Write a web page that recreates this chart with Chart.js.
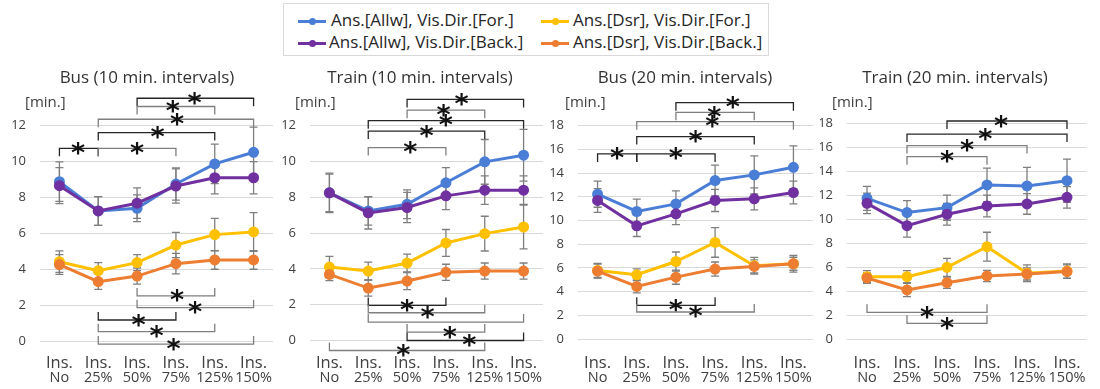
<!DOCTYPE html>
<html>
<head>
<meta charset="utf-8">
<script src="https://cdn.jsdelivr.net/npm/chart.js@4.4.1/dist/chart.umd.min.js"></script>
<style>
  body { margin: 0; background: #fff; width: 1100px; height: 389px; position: relative; overflow: hidden; font-family: "Open Sans", sans-serif; }
  .panel { position: absolute; top: 60px; height: 329px; }
  #legend { position: absolute; left: 283px; top: 3px; width: 484px; height: 51px; border: 1px solid #d9d9d9; }
  .entry { position: absolute; font-size: 17px; color: #262626; white-space: nowrap; line-height: 20px; }
  .sym { position: absolute; height: 3px; }
  .dot { position: absolute; width: 7px; height: 7px; border-radius: 50%; }
</style>
</head>
<body>
<div id="legend"></div>
<div class="panel" id="p1"><canvas id="c1"></canvas></div>
<div class="panel" id="p2"><canvas id="c2"></canvas></div>
<div class="panel" id="p3"><canvas id="c3"></canvas></div>
<div class="panel" id="p4"><canvas id="c4"></canvas></div>
<script>
// ---- data ----
const categories = ["No", "25%", "50%", "75%", "125%", "150%"];
const seriesNames = [
  "Ans.[Allw], Vis.Dir.[For.]",
  "Ans.[Allw], Vis.Dir.[Back.]",
  "Ans.[Dsr], Vis.Dir.[For.]",
  "Ans.[Dsr], Vis.Dir.[Back.]"
];
const seriesColors = ["#4a7ed6", "#7030a0", "#ffc000", "#ed7d31"];

const ticks12 = [0, 2, 4, 6, 8, 10, 12];
const ticks18 = [0, 2, 4, 6, 8, 10, 12, 14, 16, 18];

// Bus, 10 min. intervals
const bus10AllwFor  = [8.88, 7.25, 7.40, 8.75, 9.87, 10.52];
const bus10AllwBack = [8.66, 7.25, 7.68, 8.64, 9.10, 9.10];
const bus10DsrFor   = [4.42, 3.92, 4.37, 5.35, 5.93, 6.08];
const bus10DsrBack  = [4.26, 3.31, 3.62, 4.31, 4.52, 4.52];
const bus10AllwForErr  = [1.10, 0.80, 0.75, 0.90, 1.10, 1.40];
const bus10AllwBackErr = [1.00, 0.80, 0.85, 0.95, 0.90, 0.90];
const bus10DsrForErr   = [0.60, 0.45, 0.45, 0.70, 0.90, 1.08];
const bus10DsrBackErr  = [0.55, 0.43, 0.45, 0.57, 0.52, 0.52];

// Train, 10 min. intervals
const train10AllwFor  = [8.25, 7.24, 7.61, 8.81, 9.98, 10.35];
const train10AllwBack = [8.25, 7.13, 7.43, 8.08, 8.40, 8.40];
const train10DsrFor   = [4.10, 3.88, 4.33, 5.45, 5.97, 6.34];
const train10DsrBack  = [3.69, 2.93, 3.32, 3.81, 3.88, 3.88];
const train10AllwForErr  = [1.10, 0.80, 0.80, 0.85, 1.25, 1.45];
const train10AllwBackErr = [1.05, 0.90, 0.85, 0.77, 0.80, 0.80];
const train10DsrForErr   = [0.60, 0.50, 0.50, 0.75, 0.97, 1.22];
const train10DsrBackErr  = [0.35, 0.45, 0.48, 0.45, 0.45, 0.45];

// Bus, 20 min. intervals
const bus20AllwFor  = [12.22, 10.76, 11.40, 13.37, 13.85, 14.49];
const bus20AllwBack = [11.69, 9.55, 10.56, 11.69, 11.83, 12.36];
const bus20DsrFor   = [5.79, 5.42, 6.54, 8.15, 6.18, 6.35];
const bus20DsrBack  = [5.73, 4.44, 5.22, 5.90, 6.12, 6.35];
const bus20AllwForErr  = [1.10, 1.05, 1.10, 1.30, 1.60, 1.80];
const bus20AllwBackErr = [1.00, 0.90, 0.90, 0.93, 0.93, 0.96];
const bus20DsrForErr   = [0.60, 0.50, 0.80, 1.25, 0.70, 0.70];
const bus20DsrBackErr  = [0.60, 0.55, 0.60, 0.60, 0.55, 0.55];

// Train, 20 min. intervals
const train20AllwFor  = [11.75, 10.56, 10.97, 12.86, 12.78, 13.22];
const train20AllwBack = [11.33, 9.47, 10.42, 11.11, 11.28, 11.83];
const train20DsrFor   = [5.22, 5.22, 6.00, 7.72, 5.50, 5.69];
const train20DsrBack  = [5.11, 4.11, 4.72, 5.28, 5.44, 5.64];
const train20AllwForErr  = [1.00, 1.00, 1.05, 1.40, 1.55, 1.80];
const train20AllwBackErr = [0.85, 0.95, 0.90, 0.90, 0.86, 0.90];
const train20DsrForErr   = [0.50, 0.50, 0.75, 1.20, 0.70, 0.60];
const train20DsrBackErr  = [0.45, 0.55, 0.47, 0.47, 0.50, 0.56];

// significance brackets: [from, to, level, star position, side, tone]
const bus10Brackets = [
  [2, 5, 13.53, 3.48, "top", 0],
  [2, 4, 13.07, 2.92, "top", 1],
  [1, 5, 12.36, 3.03, "top", 1],
  [1, 4, 11.62, 2.53, "top", 0],
  [0, 1, 10.74, 0.48, "top", 0],
  [1, 3, 10.74, 2.00, "top", 1],
  [2, 4, 2.51, 3.03, "bottom", 1],
  [2, 5, 1.86, 3.49, "bottom", 1],
  [1, 3, 1.17, 2.04, "bottom", 0],
  [1, 4, 0.52, 2.50, "bottom", 1],
  [1, 5, -0.17, 2.94, "bottom", 1]
];
const train10Brackets = [
  [2, 5, 13.47, 3.40, "top", 0],
  [2, 4, 12.87, 2.94, "top", 1],
  [1, 5, 12.28, 3.00, "top", 0],
  [1, 4, 11.70, 2.50, "top", 0],
  [1, 3, 10.78, 2.08, "top", 1],
  [1, 3, 1.96, 2.00, "bottom", 0],
  [1, 4, 1.55, 2.53, "bottom", 1],
  [1, 5, 1.03, null, "bottom", 1],
  [2, 4, 0.47, 3.10, "bottom", 1],
  [2, 5, 0.00, 3.60, "bottom", 0],
  [0, 4, -0.56, 1.90, "bottom", 1]
];
const bus20Brackets = [
  [2, 5, 19.94, 3.45, "top", 0],
  [2, 4, 19.13, 2.98, "top", 1],
  [1, 5, 18.34, 2.93, "top", 1],
  [1, 4, 17.08, 2.50, "top", 0],
  [0, 1, 15.62, 0.50, "top", 0],
  [1, 3, 15.62, 2.00, "top", 0],
  [1, 3, 2.84, 2.00, "bottom", 0],
  [1, 4, 2.28, 2.50, "bottom", 1]
];
const train20Brackets = [
  [2, 5, 18.19, 3.35, "top", 0],
  [1, 5, 17.10, 2.96, "top", 0],
  [1, 4, 16.14, 2.50, "top", 1],
  [1, 3, 15.22, 2.00, "top", 1],
  [0, 3, 2.25, 1.50, "bottom", 1],
  [1, 3, 1.33, 2.00, "bottom", 1]
];

// ---- panels (layout in page pixels) ----
const panels = [
  { canvas: "c1", box: "p1", title: "Bus (10 min. intervals)",
    series: [bus10AllwFor, bus10AllwBack, bus10DsrFor, bus10DsrBack],
    errors: [bus10AllwForErr, bus10AllwBackErr, bus10DsrForErr, bus10DsrBackErr],
    brackets: bus10Brackets, ticks: ticks12,
    left: 0, width: 280, axisW: 40, padRight: 0, zero: 341, ppu: 17.94, yMin: -0.8, yMax: 14,
    titleX: 147, unitX: 25 },
  { canvas: "c2", box: "p2", title: "Train (10 min. intervals)",
    series: [train10AllwFor, train10AllwBack, train10DsrFor, train10DsrBack],
    errors: [train10AllwForErr, train10AllwBackErr, train10DsrForErr, train10DsrBackErr],
    brackets: train10Brackets, ticks: ticks12,
    left: 280, width: 270, axisW: 30, padRight: 0, zero: 340.5, ppu: 17.9, yMin: -1.0, yMax: 14,
    titleX: 420, unitX: 295 },
  { canvas: "c3", box: "p3", title: "Bus (20 min. intervals)",
    series: [bus20AllwFor, bus20AllwBack, bus20DsrFor, bus20DsrBack],
    errors: [bus20AllwForErr, bus20AllwBackErr, bus20DsrForErr, bus20DsrBackErr],
    brackets: bus20Brackets, ticks: ticks18,
    left: 550, width: 270, axisW: 28, padRight: 0, zero: 339, ppu: 11.85, yMin: -0.5, yMax: 20.6,
    titleX: 685, unitX: 565 },
  { canvas: "c4", box: "p4", title: "Train (20 min. intervals)",
    series: [train20AllwFor, train20AllwBack, train20DsrFor, train20DsrBack],
    errors: [train20AllwForErr, train20AllwBackErr, train20DsrForErr, train20DsrBackErr],
    brackets: train20Brackets, ticks: ticks18,
    left: 820, width: 280, axisW: 27, padRight: 13, zero: 339.3, ppu: 12.0, yMin: -0.5, yMax: 19,
    titleX: 955, unitX: 832 }
];
const PANEL_TOP = 60, PANEL_H = 329;

// legend (html)
const legend = document.getElementById("legend");
const legendSlots = [[14, 47, 17], [14, 45, 39], [257, 289, 17], [257, 289, 39]]; // [lineX, textX, y] inside box
[0, 1, 2, 3].forEach((k) => {
  const [lx, tx, y] = legendSlots[k];
  const line = document.createElement("div");
  line.className = "sym";
  line.style.cssText = `left:${lx}px;top:${y - 1.5}px;width:28px;background:${seriesColors[k]}`;
  const dot = document.createElement("div");
  dot.className = "dot";
  dot.style.cssText = `left:${lx + 10.5}px;top:${y - 3.5}px;background:${seriesColors[k]}`;
  const txt = document.createElement("div");
  txt.className = "entry";
  txt.style.cssText = `left:${tx}px;top:${y - 11}px`;
  txt.textContent = seriesNames[k];
  legend.append(line, dot, txt);
});

function drawStar(ctx, x, y) {
  ctx.font = 'bold 27px "DejaVu Sans"';
  ctx.textAlign = "center";
  ctx.textBaseline = "alphabetic";
  const m = ctx.measureText("*");
  const asc = m.actualBoundingBoxAscent, desc = m.actualBoundingBoxDescent;
  ctx.fillStyle = "#111";
  ctx.fillText("*", x, y + (asc - desc) / 2);
}

const annotPlugin = {
  id: "annot",
  beforeDatasetsDraw(chart) {
    // error bars, behind the markers
    const p = chart.options.plugins.annot.panel;
    const ctx = chart.ctx, xs = chart.scales.x, ys = chart.scales.y;
    ctx.save();
    ctx.strokeStyle = "#7f7f7f";
    ctx.lineWidth = 1.3;
    p.errors.forEach((errs, k) => {
      errs.forEach((e, i) => {
        const v = p.series[k][i];
        const x = xs.getPixelForValue(i);
        const yt = ys.getPixelForValue(v + e), yb = ys.getPixelForValue(v - e);
        ctx.beginPath();
        ctx.moveTo(x, yt); ctx.lineTo(x, yb);
        ctx.moveTo(x - 4, yt); ctx.lineTo(x + 4, yt);
        ctx.moveTo(x - 4, yb); ctx.lineTo(x + 4, yb);
        ctx.stroke();
      });
    });
    ctx.restore();
  },
  afterDraw(chart) {
    const p = chart.options.plugins.annot.panel;
    const ctx = chart.ctx, xs = chart.scales.x, ys = chart.scales.y;
    ctx.save();
    // brackets
    p.brackets.forEach(([a, b, lvl, star, side, tone]) => {
      const x1 = xs.getPixelForValue(a), x2 = xs.getPixelForValue(b);
      const y = ys.getPixelForValue(lvl);
      const t = side === "top" ? 8 : -8;
      ctx.strokeStyle = tone ? "#7f7f7f" : "#262626";
      ctx.lineWidth = 1.3;
      ctx.beginPath();
      ctx.moveTo(x1, y + t); ctx.lineTo(x1, y); ctx.lineTo(x2, y); ctx.lineTo(x2, y + t);
      ctx.stroke();
      if (star !== null) drawStar(ctx, xs.getPixelForValue(star), y);
    });
    // titles and units
    ctx.fillStyle = "#333";
    ctx.textAlign = "center";
    ctx.textBaseline = "middle";
    ctx.font = '17px "Open Sans"';
    ctx.fillText(p.title, p.titleX - p.left, 78 - PANEL_TOP);
    ctx.fillStyle = "#404040";
    ctx.textAlign = "left";
    ctx.font = '15px "Open Sans"';
    ctx.fillText("[min.]", p.unitX - p.left, 103 - PANEL_TOP);
    // category labels
    ctx.textAlign = "center";
    categories.forEach((c, i) => {
      const x = xs.getPixelForValue(i);
      ctx.font = '16.5px "Open Sans"';
      ctx.fillText("Ins.", x, 363 - PANEL_TOP);
      ctx.font = '14.5px "Open Sans"';
      ctx.fillText(c, x, 378 - PANEL_TOP);
    });
    ctx.restore();
  }
};

panels.forEach((p) => {
  const box = document.getElementById(p.box);
  box.style.left = p.left + "px";
  box.style.width = p.width + "px";
  const padTop = (p.zero - p.ppu * p.yMax) - PANEL_TOP;
  const padBottom = PANEL_H - ((p.zero - p.ppu * p.yMin) - PANEL_TOP);

  new Chart(document.getElementById(p.canvas), {
    type: "line",
    data: {
      labels: categories,
      datasets: p.series.map((vals, k) => ({
        label: seriesNames[k],
        data: vals,
        borderColor: seriesColors[k],
        backgroundColor: seriesColors[k],
        borderWidth: 3,
        pointRadius: 4,
        pointHoverRadius: 4,
        tension: 0,
        order: 3 - k
      }))
    },
    options: {
      responsive: true,
      maintainAspectRatio: false,
      animation: false,
      events: [],
      layout: { padding: { top: padTop, bottom: padBottom, left: 0, right: p.padRight } },
      plugins: {
        legend: { display: false },
        tooltip: { enabled: false },
        annot: { panel: p }
      },
      scales: {
        x: { type: "category", offset: true, display: false },
        y: {
          min: p.yMin,
          max: p.yMax,
          afterBuildTicks: (s) => { s.ticks = p.ticks.map((v) => ({ value: v })); },
          afterFit: (s) => { s.width = p.axisW; },
          grid: { color: "#d9d9d9", drawTicks: false },
          border: { display: false },
          ticks: { padding: 14, color: "#404040", font: { family: "Open Sans", size: 13 } }
        }
      }
    },
    plugins: [annotPlugin]
  });
});
</script>
</body>
</html>
